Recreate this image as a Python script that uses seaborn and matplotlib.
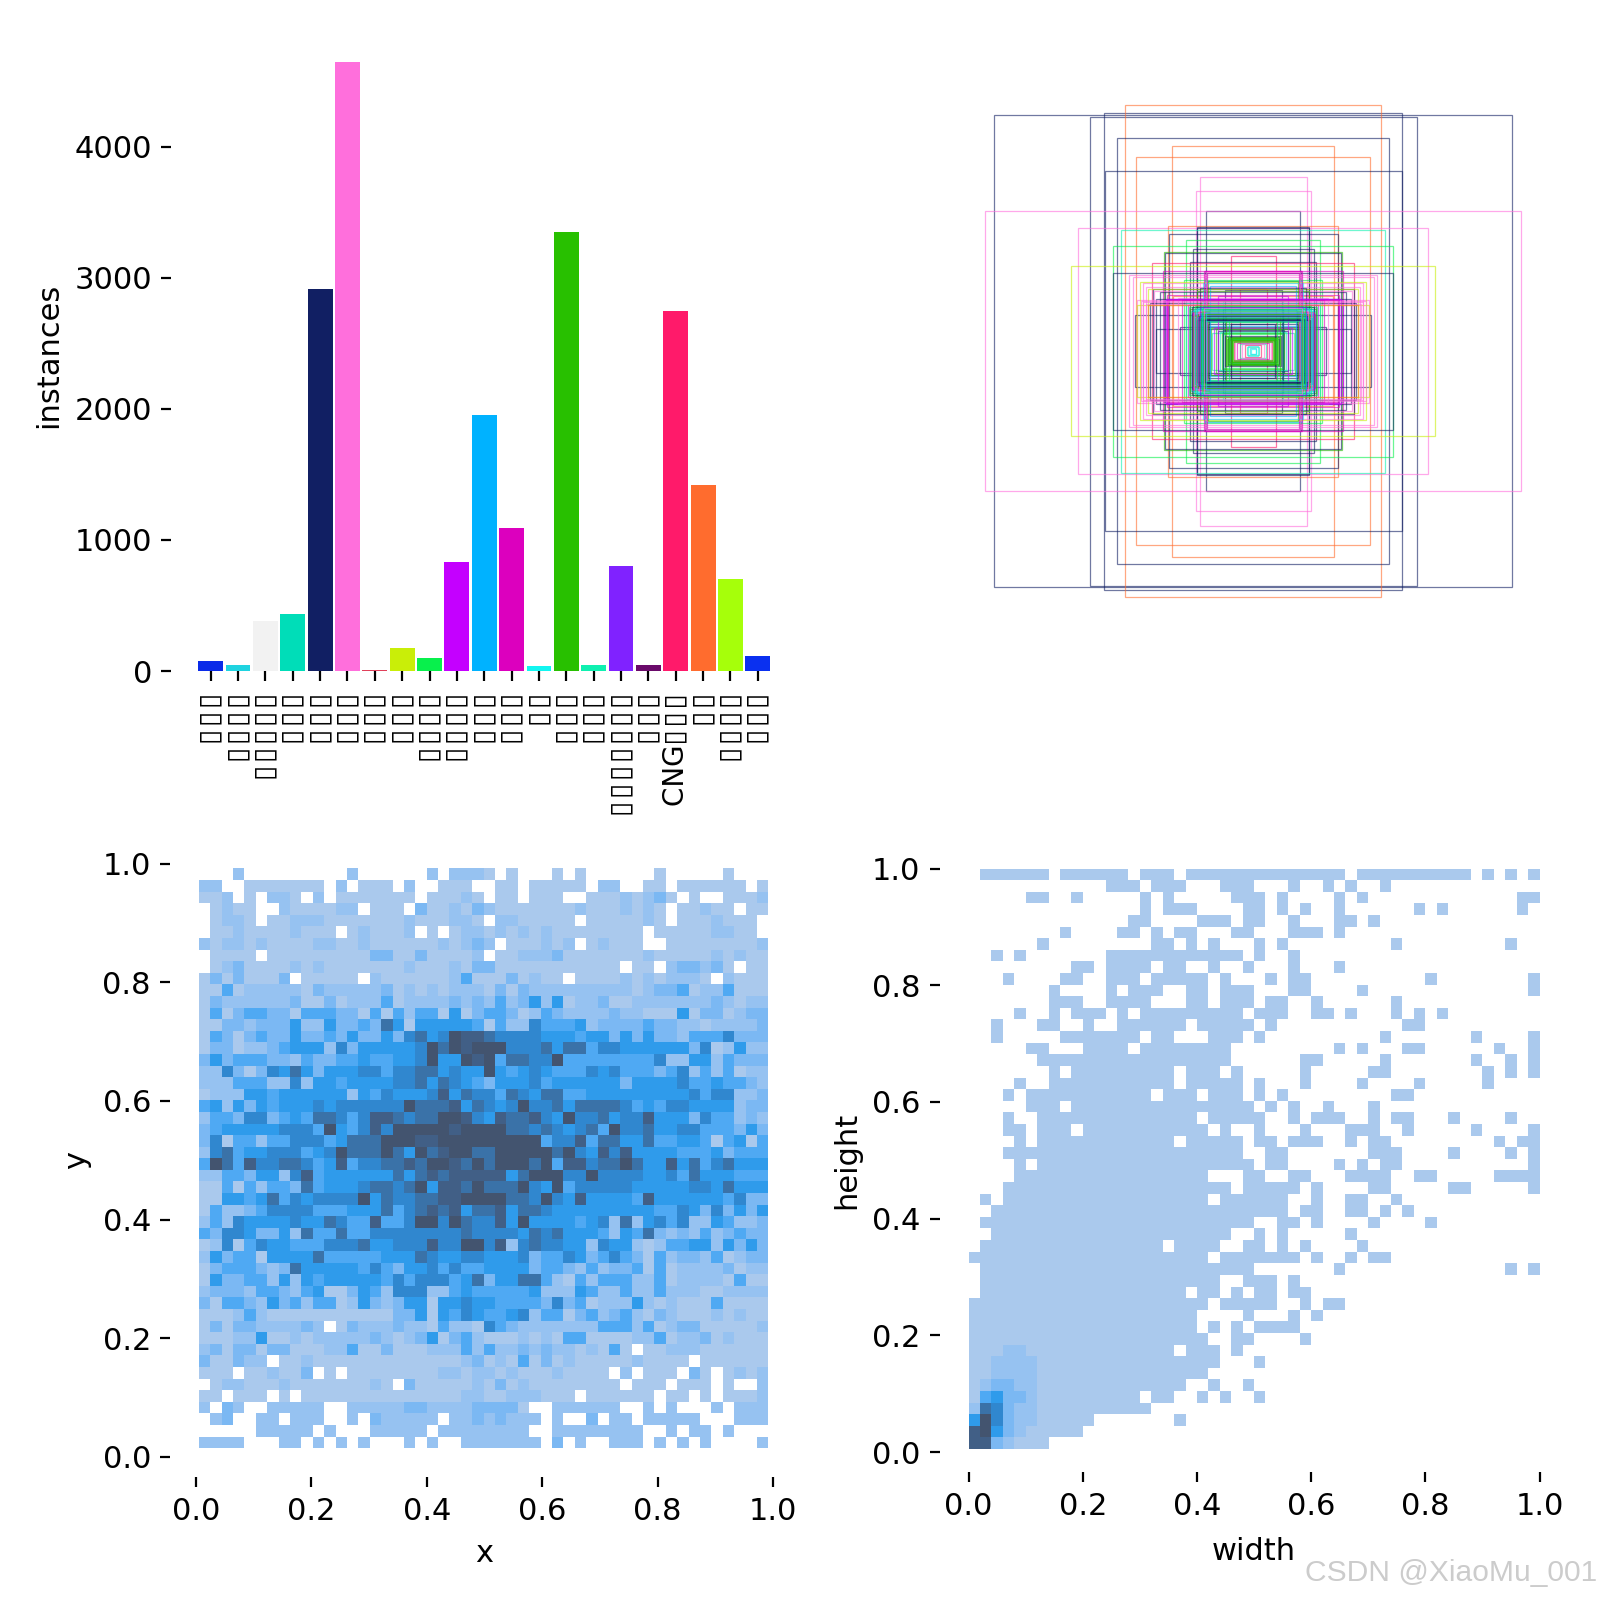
#!/usr/bin/env python

import numpy as np
import pandas as pd
import seaborn as sns
import matplotlib.pyplot as plt
from matplotlib.colors import LinearSegmentedColormap
from matplotlib.patches import Rectangle

plt.rcParams['font.size'] = 11

# class bars
class_ids = list(range(21))
class_counts = [78, 47, 381, 436, 2918, 4646, 8, 179, 101, 833, 1953, 1090,
                39, 3354, 47, 802, 47, 2747, 1416, 700, 117]
class_labels = ["▯▯▯", "▯▯▯▯", "▯▯▯▯▯", "▯▯▯", "▯▯▯", "▯▯▯", "▯▯▯", "▯▯▯",
                "▯▯▯▯", "▯▯▯▯", "▯▯▯", "▯▯▯", "▯▯", "▯▯▯", "▯▯▯", "▯▯▯▯▯▯▯",
                "▯▯▯", "CNG▯▯▯", "▯▯", "▯▯▯▯", "▯▯▯"]
class_colors = ["#0A2BE8", "#1FD3E0", "#F2F2F2", "#00DDB8", "#111F63", "#FF6FDC",
                "#E0405A", "#C9EE08", "#08F04C", "#C400FF", "#00B2FF", "#DC00BE",
                "#12F5F0", "#28C000", "#0FF0B0", "#8022FF", "#6A0A6A", "#FF1A6A",
                "#FF6C2E", "#A6FF0A", "#0A30F0"]

# label boxes, all centred, sizes
box_w = [518, 327, 298, 256, 272, 162, 234, 297, 107, 115, 94, 536, 350, 170, 112, 112,
         264, 169, 134, 280, 121, 178, 176, 45, 126, 202, 364, 96, 280, 248, 241, 180, 138,
         97, 201, 27, 57, 179, 195, 206, 236, 195, 146, 121, 232, 232, 100, 96, 61, 52,
         82, 51, 43,
         122, 120, 118, 116, 110, 108, 104, 100, 96, 92, 90, 86, 84, 78, 74, 70, 66, 62,
         60, 56, 54, 48, 46, 42, 38, 36, 32, 26,
         130, 128, 126, 134, 142, 150, 160, 172, 186, 198, 210, 214, 220, 226, 90, 86,
         100, 106, 112, 70, 60, 60, 54, 48, 44, 104, 95, 88,
         98, 94, 92, 175, 172, 170, 225, 220, 215, 210,
         124, 123, 122, 121, 120, 119, 118, 117, 116, 115, 114, 113, 112, 111, 110, 109,
         108, 107, 106, 105, 104, 103, 102, 101, 100, 99, 98, 97, 96, 95,
         50, 46, 48, 44, 42, 40, 22, 16, 12, 10, 6, 5]
box_h = [472, 469, 477, 492, 426, 411, 388, 360, 349, 320, 280, 280, 246, 251, 248, 246,
         243, 234, 223, 211, 204, 198, 196, 191, 179, 176, 170, 160, 157, 152, 148, 160, 143,
         141, 125, 124, 123, 103, 105, 97, 72, 44, 48, 75, 103, 92, 90, 67, 43, 25,
         37, 28, 22,
         76, 72, 70, 66, 64, 62, 60, 58, 64, 58, 54, 50, 47, 46, 44, 40, 38, 36,
         34, 30, 28, 26, 24, 22, 20, 18, 16, 14,
         92, 88, 84, 96, 102, 106, 110, 112, 118, 120, 124, 128, 136, 138, 140, 130,
         136, 126, 120, 110, 100, 84, 72, 62, 54, 100, 92, 82,
         160, 158, 156, 105, 104, 102, 100, 98, 95, 92,
         80, 74, 88, 78, 70, 84, 76, 66, 90, 82, 72, 62, 86, 74, 68, 80,
         70, 60, 88, 76, 66, 84, 72, 64, 80, 68, 86, 74, 62, 78,
         26, 24, 22, 20, 26, 18, 14, 12, 8, 10, 6, 5]
box_cls = [4, 4, 4, 18, 4, 18, 18, 4, 5, 5, 4, 5, 5, 18, 4, 4,
           14, 4, 8, 8, 4, 13, 4, 17, 4, 17, 7, 11, 4, 5, 5, 11, 8,
           10, 4, 17, 4, 9, 4, 4, 4, 4, 4, 9, 5, 7, 8, 10, 4, 13,
           14, 4, 13,
           9, 11, 9, 10, 13, 9, 4, 13, 8, 14, 4, 10, 13, 9, 13, 4, 14, 13,
           8, 4, 13, 13, 10, 13, 17, 5, 11, 14,
           9, 8, 13, 14, 11, 5, 18, 11, 4, 5, 7, 5, 5, 7, 13, 10,
           12, 4, 13, 9, 14, 4, 13, 8, 4, 13, 8, 4,
           11, 5, 11, 9, 9, 11, 5, 5, 5, 18,
           14, 9, 4, 17, 13, 10, 5, 10, 8, 12, 17, 4, 1, 13, 9, 5,
           4, 14, 15, 10, 13, 8, 10, 4, 8, 14, 5, 13, 4, 1,
           13, 13, 13, 13, 13, 13, 5, 17, 14, 12, 1, 12]

# x / y histogram, one string per row from the top, digit = colour level
xy_levels = [
    "00020 00000 00020 00000 20222 10100 01010 00000 10000 01000",
    "22001 11111 10201 11020 01110 01101 11110 22001 10111 11101",
    "11201 02210 20111 11110 11121 01101 11001 11212 31010 01112",
    "01211 00211 11220 11103 11213 21111 11121 11212 10112 11011",
    "01221 01122 21111 11121 11221 02211 11101 11112 10111 21110",
    "01121 11121 11012 11120 10122 12121 21111 11110 11111 22110",
    "21221 21111 22112 11111 12123 20111 21201 21110 01111 11112",
    "01111 01111 11111 33113 11112 01122 23111 11112 11111 21211",
    "01231 11121 21111 11121 11213 31111 11111 11011 02332 31011",
    "13131 11301 11110 21111 11241 11312 11011 11212 12221 02111",
    "11412 22221 32222 23121 21222 13132 22222 22212 33412 24111",
    "13222 22231 13122 24122 22323 24235 25122 31122 22222 32122",
    "14134 43314 44331 41424 41513 44312 43222 23221 11513 31233",
    "11332 33352 25334 37515 55554 14226 44452 33334 33221 22223",
    "14313 43353 34353 35367 56988 76666 55545 53535 33244 46333",
    "13312 23455 52635 55556 97989 99666 75774 66555 55536 12522",
    "35344 43324 33445 44556 95598 94776 69444 44444 62255 24333",
    "22631 36575 35556 64667 75655 95456 54446 56444 34624 24122",
    "22244 42262 55455 55667 57654 35556 45555 55355 55644 54432",
    "12225 54555 55525 46555 68576 64765 77445 55555 55564 66223",
    "45253 54555 65666 66697 77857 65696 67577 77645 46655 55233",
    "24436 63454 77646 88767 79986 58778 65966 75668 55536 44232",
    "34555 55666 49546 86999 99899 99776 76567 49667 55664 44353",
    "36144 24466 64577 79998 89999 99999 46684 77557 44554 14514",
    "26745 56664 56977 79759 78997 79999 97965 86855 55444 53444",
    "49748 66776 45846 67787 99879 79997 94886 77975 58574 67555",
    "22443 55268 45555 55757 87888 88579 99669 66665 56475 55444",
    "11414 24437 45556 77679 58879 77796 59466 66655 55566 57555",
    "11554 57465 66669 57667 78899 99776 96585 55548 55555 54633",
    "14223 46666 44455 57467 87857 78577 65555 55555 44653 63535",
    "24265 55565 57644 84469 96976 68595 55545 62725 64622 54223",
    "43665 33527 44744 66666 66676 66657 67555 42547 32324 23433",
    "12614 65544 46667 55666 86699 68267 66552 65521 24455 25353",
    "25344 15555 74444 45557 65566 55563 44653 46431 42332 41233",
    "13444 32375 55554 64355 64644 55553 44324 23341 41222 23122",
    "15334 42525 45555 54646 66457 35577 42142 44422 41222 21411",
    "23332 44324 51135 42666 22454 44445 22254 22422 42221 12222",
    "31443 25342 44125 32355 15565 54444 36341 22252 12111 41111",
    "11124 21111 11111 11335 15465 44562 44134 23421 32111 21211",
    "13133 22223 20132 22322 14221 64322 22222 44424 12331 11112",
    "11122 51121 22222 32123 51342 11121 21441 11122 41223 12111",
    "23133 13311 12241 13111 22242 42232 32212 14101 12221 11111",
    "31132 20112 11111 11111 11123 12141 31211 11121 11101 11111",
    "11101 12113 01011 11111 12212 21211 12111 10201 11031 01212",
    "01221 11211 11111 21031 11112 13121 11111 11011 10111 01002",
    "11011 10101 11111 11111 11122 11222 11101 11111 01101 01112",
    "20320 02222 20022 22233 22223 33310 02222 22002 02000 20222",
    "02300 22022 20020 32222 20223 23222 02003 02202 22220 00222",
    "00000 22222 02000 22222 02222 22220 02222 22220 02022 02000",
    "22220 00220 20202 00020 20022 22222 03020 02220 20202 00002",
]

# width / height histogram, same format
wh_levels = [
    "01111 11011 11110 11101 11111 11111 11101 11111 11110 10101",
    "00000 00000 00111 01110 00111 00010 01010 01000 00000 00000",
    "00000 11001 00000 10100 00011 10100 00101 00000 00000 00011",
    "00000 00000 00000 10111 00001 10101 00100 00001 01000 00010",
    "00000 00000 00001 10000 11101 10010 00110 10000 00000 00000",
    "00000 00010 00011 01011 00011 00011 10100 00000 00000 00000",
    "00000 01000 00000 01101 01000 10100 00000 00100 00000 00100",
    "00101 00000 00111 11111 11110 10010 00000 00000 00000 00000",
    "00000 00001 10111 10110 01001 00010 00100 00000 00000 00000",
    "00010 00011 00111 01111 10100 01011 00000 00000 10000 00001",
    "00000 00100 00101 11001 10111 00011 00001 00000 00000 00001",
    "00000 00111 00111 10001 10111 01100 10000 00100 00000 00000",
    "00001 00101 11010 11111 11110 11100 11010 00101 01000 00000",
    "00100 01100 10011 11110 11111 01000 00000 00011 00000 00000",
    "00100 00011 11111 01100 01110 10000 00000 01000 00001 00001",
    "00000 11000 11110 11111 11100 00000 00101 00011 00000 01001",
    "00000 01111 11111 11111 11100 00001 10000 01000 00001 00101",
    "00000 00101 11111 11101 11010 00001 00000 11000 00000 10101",
    "00001 00111 11111 11101 11110 10001 00001 00001 00000 10000",
    "00010 11111 11111 10111 01110 10100 00000 00110 00000 00000",
    "00000 11101 11111 11111 11111 01010 01000 10000 00000 00000",
    "00010 01111 11111 11111 01111 10010 11100 10110 00100 00100",
    "00011 01110 11111 11111 10100 10001 00011 10010 00001 00001",
    "00001 01111 11111 11101 11110 11011 10010 11000 00000 01011",
    "00011 11111 11111 11111 11110 01100 00000 11100 00100 00101",
    "00001 01111 11111 11111 11111 01100 00101 01100 00000 00001",
    "00001 11111 11111 11111 10001 10011 00011 11001 10000 01111",
    "00011 11111 11111 11111 11101 11110 10000 11000 00110 00001",
    "01011 11111 11111 11111 10111 11100 10011 00100 00000 00000",
    "00111 11111 11111 11111 11111 11101 10011 01010 00000 00000",
    "01111 11111 11111 11111 11111 00110 10000 10000 10000 00000",
    "00111 11111 11111 11111 11100 10100 00010 00000 00000 00000",
    "01111 11111 11111 11011 11001 10101 00001 00000 00000 00000",
    "11111 11111 11111 11111 10111 11110 10010 11000 00000 00000",
    "01111 11111 11111 11111 11111 00000 00100 00000 00000 00101",
    "01111 11111 11111 11111 11001 11010 00000 00000 00000 00000",
    "01111 11111 11111 11110 11010 11011 00000 00000 00000 00000",
    "11111 11111 11111 11111 10111 11001 01100 00000 00000 00000",
    "11111 11111 11111 11111 00001 00010 10000 00000 00000 00000",
    "11111 11111 11111 11111 01010 11110 00000 00000 00000 00000",
    "11111 11111 11111 11111 10011 00001 00000 00000 00000 00000",
    "11122 11111 11111 11101 11010 00000 00000 00000 00000 00000",
    "11222 21111 11111 11111 11000 10000 00000 00000 00000 00000",
    "11222 21111 11111 11111 10000 00000 00000 00000 00000 00000",
    "12332 21111 11111 11110 01001 00000 00000 00000 00000 00000",
    "14533 21111 11111 01100 10100 10000 00000 00000 00000 00000",
    "27632 21111 11111 10000 00000 00000 00000 00000 00000 00000",
    "59632 21111 10000 00010 00000 00000 00000 00000 00000 00000",
    "89532 11111 00000 00000 00000 00000 00000 00000 00000 00000",
    "88321 11000 00000 00000 00000 00000 00000 00000 00000 00000",
]

level_colors = ["#AAC9ED", "#96C2F1", "#7BB8F3", "#4FA9F3", "#2F9BEB",
                "#3087D0", "#3A72A9", "#415F87", "#43546F"]
ticks_01 = [0.0, 0.2, 0.4, 0.6, 0.8, 1.0]


def axes_px(fig, left, top, right, bottom):
    # pixel box (y down) to figure fractions
    return fig.add_axes([left / 1600, 1 - bottom / 1600, (right - left) / 1600, (bottom - top) / 1600])


def grid_frame(rows, x_range, y_range):
    # turn the level strings into one row per bin for histplot
    levels = np.array([[int(c) for c in r.replace(" ", "")] for r in rows], dtype=float)
    x_edges = np.linspace(x_range[0], x_range[1], levels.shape[1] + 1)
    y_edges = np.linspace(y_range[1], y_range[0], levels.shape[0] + 1)
    xs, ys = np.meshgrid((x_edges[:-1] + x_edges[1:]) / 2, (y_edges[:-1] + y_edges[1:]) / 2)
    return pd.DataFrame({"x": xs.ravel(), "y": ys.ravel(), "level": levels.ravel()})


def hide_spines(ax, left_offset, bottom_offset):
    # ticks stay, pushed away from the plot area
    # set_position resets the ticks, so call this before styling tick labels
    sns.despine(ax=ax, left=True, bottom=True)
    ax.spines["left"].set_position(("outward", left_offset))
    ax.spines["bottom"].set_position(("outward", bottom_offset))


def draw_hist(ax, rows, x_range, y_range, xlabel, ylabel, cmap, left_offset, label_pad):
    df = grid_frame(rows, x_range, y_range)
    sns.histplot(df, x="x", y="y", weights="level", bins=50, binrange=(x_range, y_range),
                 cmap=cmap, vmin=1, vmax=9, ax=ax)
    hide_spines(ax, left_offset, 7.3)
    ax.set_xlim(0, 1)
    ax.set_ylim(0, 1)
    ax.set_xticks(ticks_01)
    ax.set_yticks(ticks_01)
    ax.set_xlabel(xlabel, labelpad=label_pad)
    ax.set_ylabel(ylabel)


fig = plt.figure(figsize=(8, 8), dpi=200)
level_cmap = LinearSegmentedColormap.from_list("levels", level_colors)

# top left, instances per class
ax = axes_px(fig, 197, 40, 771.5, 671)
sns.barplot(x=class_ids, y=class_counts, hue=class_ids, palette=dict(zip(class_ids, class_colors)),
            legend=False, dodge=False, width=0.91, saturation=1, ax=ax)
hide_spines(ax, 9.2, 0)
ax.set_xlim(-0.5, 20.5)
ax.set_ylim(0, 4816)
ax.set_xticks(class_ids)
ax.set_xticklabels([label.replace("▯", "▯\u200a") for label in class_labels], rotation=90, fontsize=10)
ax.set_yticks([0, 1000, 2000, 3000, 4000])
ax.set_ylabel("instances")

# top right, boxes
ax = axes_px(fig, 967, 65, 1539, 637)
for w, h, cls in zip(box_w, box_h, box_cls):
    ax.add_patch(Rectangle((-w / 2, -h / 2), w, h, fill=False, lw=0.45, alpha=0.6,
                           edgecolor=class_colors[cls]))
ax.set_xlim(-286, 286)
ax.set_ylim(-286, 286)
ax.axis("off")

# bottom row
ax = axes_px(fig, 196, 863.5, 773, 1457)
draw_hist(ax, xy_levels, (0.005, 0.992), (0.015, 0.9916), "x", "y", level_cmap, 9.2, 4.7)

ax = axes_px(fig, 968.6, 868.5, 1539.5, 1452)
draw_hist(ax, wh_levels, (0.0, 1.0), (0.005, 1.0), "width", "height", level_cmap, 10.3, 6)

fig.text(0.998, 1 - 1573 / 1600, "CSDN @XiaoMu_001", ha="right", va="center", color="#CCCCCC",
         fontsize=10.8, family="Liberation Sans")

fig.savefig("out.png", dpi=200)
